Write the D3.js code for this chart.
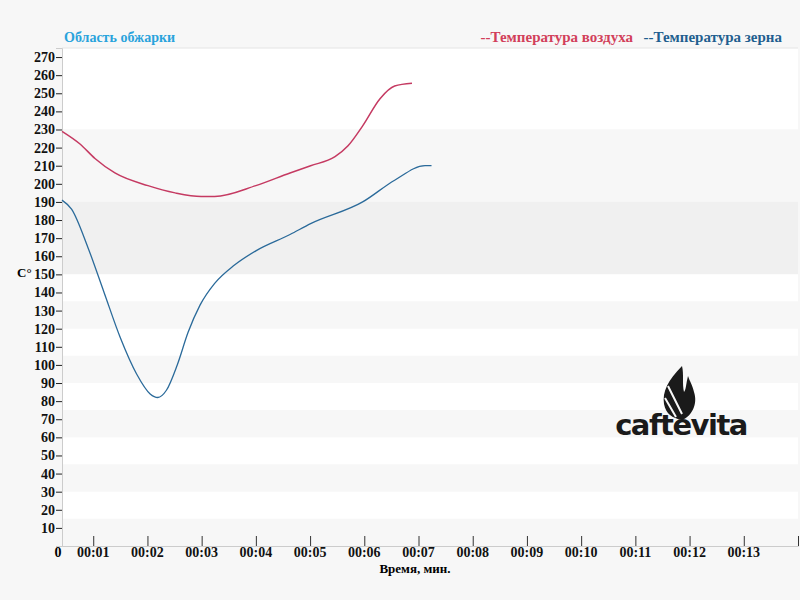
<!DOCTYPE html><html><head><meta charset="utf-8"><script src="https://d3js.org/d3.v7.min.js"></script>
<style>body{margin:0;background:#f7f7f7}text{font-family:"Liberation Serif","Times New Roman",serif;font-weight:bold}</style></head><body>
<svg id="c" width="800" height="600"></svg>
<script>
const yTicks=[10,20,30,40,50,60,70,80,90,100,110,120,130,140,150,160,170,180,190,200,210,220,230,240,250,260,270];
const xTicks=[1,2,3,4,5,6,7,8,9,10,11,12,13];
const xLabels=["00:01","00:02","00:03","00:04","00:05","00:06","00:07","00:08","00:09","00:10","00:11","00:12","00:13"];
const airT=[0.424,0.756,1.032,1.40,2.01,2.51,2.99,3.24,4.0,4.63,5.01,5.46,5.70,5.97,6.29,6.56,6.88];
const airV=[229,222,214,206,199,195,193,193,199,206,210,215,221,232,247,254,255.5];
const beanT=[0.424,0.6,0.9,1.2,1.5,1.8,2.05,2.19,2.35,2.55,2.75,2.97,3.24,3.6,4.0,4.63,5.01,5.97,6.56,7.12,7.24];
const beanV=[191,186,165,140,115,95,84,82,86,100,118,133,145,155,163,172,178,190,202,210,210];
const bands=[[230,275,"#ffffff"],[190,230,"#f7f7f7"],[150,190,"#f0f0f0"],[135,150,"#fff"],[120,135,"#f7f7f7"],[105,120,"#fff"],[90,105,"#f7f7f7"],[75,90,"#fff"],[60,75,"#f7f7f7"],[45,60,"#fff"],[30,45,"#f7f7f7"],[15,30,"#fff"],[0,15,"#f7f7f7"]];
const svg=d3.select("#c");
const x=d3.scaleLinear().domain([0.424,14]).range([62,798]);
const y=d3.scaleLinear().domain([0,275]).range([546,48]);
svg.selectAll("rect.b").data(bands).enter().append("rect").attr("x",62).attr("width",736)
 .attr("y",d=>y(d[1])).attr("height",d=>y(d[0])-y(d[1])).attr("fill",d=>d[2]);
svg.append("line").attr("x1",62).attr("x2",798).attr("y1",48).attr("y2",48).attr("stroke","#e4e4e4");
const ya=svg.append("g").attr("transform","translate(62,0)").call(d3.axisLeft(y).tickValues(yTicks).tickSize(6).tickPadding(1));
ya.select(".domain").attr("stroke","#ccc");ya.selectAll("line").attr("stroke","#222");
ya.selectAll("text").attr("font-size",14).attr("fill","#111").style("font-family","Liberation Serif").style("font-weight","bold");
const xa=svg.append("g").attr("transform","translate(0,546)").call(d3.axisTop(x).tickValues(xTicks.concat([14])).tickSize(10).tickFormat(""));
xa.select(".domain").attr("stroke","#ccc");xa.selectAll("line").attr("stroke","#333");
svg.selectAll("text.xl").data(xTicks).enter().append("text").attr("x",d=>x(d)).attr("y",557).attr("text-anchor","middle").attr("font-size",14).attr("fill","#111").text((d,i)=>xLabels[i]);
svg.append("text").attr("x",58).attr("y",557).attr("text-anchor","middle").attr("font-size",14).text("0");
const line=d3.line().curve(d3.curveMonotoneX);
svg.append("path").attr("d",line(airT.map((t,i)=>[x(t),y(airV[i])]))).attr("fill","none").attr("stroke","#c53a62").attr("stroke-width",1.5);
svg.append("path").attr("d",line(beanT.map((t,i)=>[x(t),y(beanV[i])]))).attr("fill","none").attr("stroke","#2a6a9a").attr("stroke-width",1.3);
svg.append("text").attr("x",64).attr("y",42).attr("font-size",14).attr("fill","#29a3dc").text("Область обжарки");
svg.append("text").attr("x",633).attr("y",42).attr("text-anchor","end").attr("font-size",15).attr("fill","#d2405a").text("--Температура воздуха");
svg.append("text").attr("x",782).attr("y",42).attr("text-anchor","end").attr("font-size",15).attr("fill","#1f5f8f").text("--Температура зерна");
svg.append("text").attr("x",17).attr("y",277).attr("font-size",13).text("C°");
svg.append("text").attr("x",415).attr("y",573).attr("text-anchor","middle").attr("font-size",13).text("Время, мин.");
// logo
const g=svg.append("g");
g.append("path").attr("d","M682,366 C668,380 662,392 664,404 C666,414 672,418 682,420 C692,416 698,404 694,392 C692,384 690,382 688,376 C686,384 686,390 684,392 C682,384 684,374 682,366 Z").attr("fill","#1a1a1a");
g.append("path").attr("d","M668,386 L682,414 M665,398 L676,417").attr("stroke","#f7f7f7").attr("stroke-width",2);
g.append("text").attr("x",681).attr("y",435).attr("text-anchor","middle").attr("font-size",29).attr("fill","#1a1a1a").style("font-family","DejaVu Sans").style("font-weight","900").style("letter-spacing","-1.5px").text("caftevita");
</script></body></html>
